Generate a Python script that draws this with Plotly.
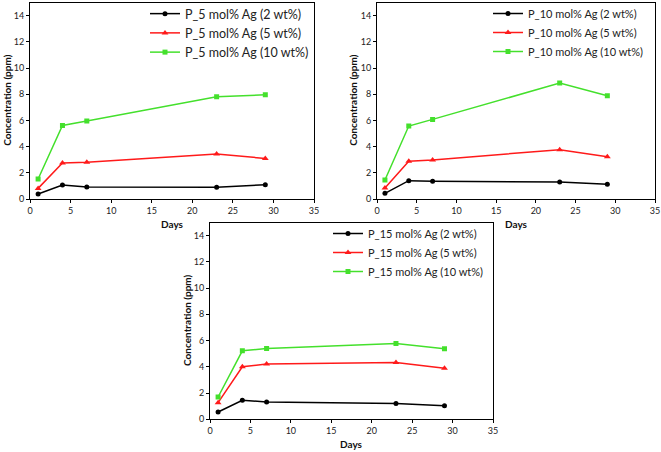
import plotly.graph_objects as go

days = [1, 4, 7, 23, 29]

# Panel 1: P_5 mol% Ag
p5_2wt = [0.38, 1.07, 0.92, 0.89, 1.09]
p5_5wt = [0.81, 2.75, 2.80, 3.43, 3.10]
p5_10wt = [1.53, 5.62, 5.95, 7.81, 7.96]

# Panel 2: P_10 mol% Ag
p10_2wt = [0.43, 1.40, 1.35, 1.30, 1.12]
p10_5wt = [0.84, 2.88, 2.98, 3.77, 3.23]
p10_10wt = [1.45, 5.57, 6.08, 8.85, 7.89]

# Panel 3: P_15 mol% Ag
p15_2wt = [0.56, 1.45, 1.32, 1.20, 1.04]
p15_5wt = [1.27, 4.00, 4.22, 4.33, 3.89]
p15_10wt = [1.70, 5.22, 5.39, 5.78, 5.37]

panel_names = ["P_5 mol% Ag", "P_10 mol% Ag", "P_15 mol% Ag"]
loadings = ["2 wt%", "5 wt%", "10 wt%"]
x_ticks = [0, 5, 10, 15, 20, 25, 30, 35]
y_ticks = [0, 2, 4, 6, 8, 10, 12, 14]

series = [
    [p5_2wt, p5_5wt, p5_10wt],
    [p10_2wt, p10_5wt, p10_10wt],
    [p15_2wt, p15_5wt, p15_10wt],
]

colors = ["#000000", "#FF1A1A", "#44E02C"]
symbols = ["circle", "triangle-up", "square"]
msizes = [5, 6, 5]

W, H = 661, 452
# plot areas in pixels: (left, right, top, bottom)
boxes = [(30, 314, 2.6, 199), (377, 655, 2.6, 199), (210, 493, 222.5, 419.3)]
legend_pos = [(145, -1), (488, -1), (328, 219)]
legend_size = [12.5, 11, 11]
ytitle_x = [7, 353, 187]

FONT = "Lato"
fig = go.Figure()

for p in range(3):
    ax = "" if p == 0 else str(p + 1)
    lg = "legend" if p == 0 else "legend%d" % (p + 1)
    for s in range(3):
        fig.add_trace(go.Scatter(
            x=days, y=series[p][s], mode="lines+markers",
            name="%s (%s)" % (panel_names[p], loadings[s]),
            line=dict(color=colors[s], width=1.5),
            marker=dict(symbol=symbols[s], size=msizes[s], color=colors[s]),
            xaxis="x" + ax, yaxis="y" + ax, legend=lg,
        ))
    l, r, t, b = boxes[p]
    common = dict(showline=True, linecolor="black", linewidth=1, mirror=True,
                  ticks="outside", ticklen=3, tickcolor="black", showgrid=False,
                  zeroline=False, automargin=False,
                  tickfont=dict(family=FONT, size=9, color="#222"))
    fig.layout["xaxis" + ax] = dict(domain=[l / W, r / W], range=[0, 35], tickvals=x_ticks,
                                    anchor="y" + ax, **common)
    fig.layout["yaxis" + ax] = dict(domain=[1 - b / H, 1 - t / H], range=[0, 15], tickvals=y_ticks,
                                    anchor="x" + ax, **common)
    lx, ly = legend_pos[p]
    fig.layout[lg] = dict(x=lx / W, y=1 - ly / H, xanchor="left", yanchor="top",
                          bgcolor="rgba(0,0,0,0)", borderwidth=0, itemwidth=30,
                          font=dict(family=FONT, size=legend_size[p], color="#222"),
                          tracegroupgap=0)
    fig.add_annotation(text="<b>Days</b>", x=(l + r) / 2 / W, y=1 - (b + 25) / H,
                       xref="paper", yref="paper", showarrow=False,
                       xanchor="center", yanchor="middle",
                       font=dict(family=FONT, size=10, color="#111"))
    fig.add_annotation(text="<b>Concentration (ppm)</b>", x=ytitle_x[p] / W,
                       y=1 - (t + b) / 2 / H, xref="paper", yref="paper",
                       showarrow=False, textangle=-90,
                       xanchor="center", yanchor="middle",
                       font=dict(family=FONT, size=10, color="#111"))

fig.update_layout(width=W, height=H, margin=dict(l=0, r=0, t=0, b=0, autoexpand=False),
                  paper_bgcolor="white", plot_bgcolor="white", showlegend=True)

fig.write_html("out.html", config={"displayModeBar": False},
               post_script="document.body.style.margin='0px';document.body.style.overflow='hidden';")
